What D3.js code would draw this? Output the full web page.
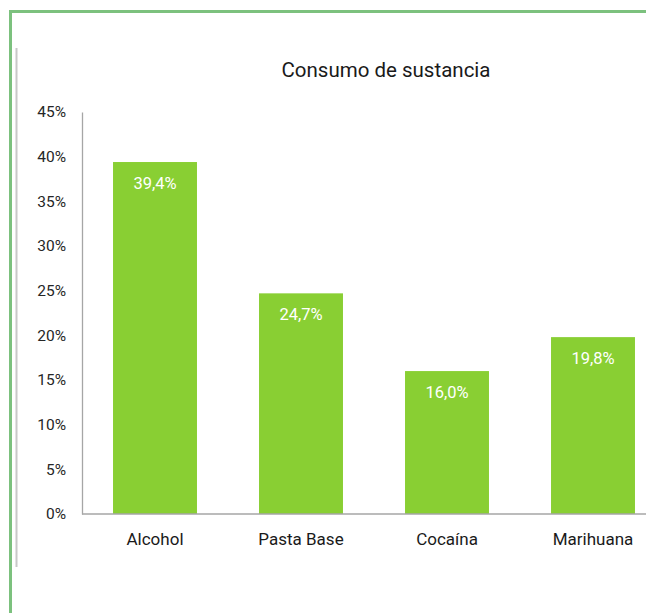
<!DOCTYPE html>
<html><head><meta charset="utf-8">
<script src="https://cdn.jsdelivr.net/npm/d3@7"></script>
<style>
html,body{margin:0;padding:0;background:#fff;}
svg{display:block;font-family:"Roboto",sans-serif;}
</style></head>
<body>
<svg id="c" width="646" height="613"></svg>
<script>
const categories = ["Alcohol", "Pasta Base", "Cocaína", "Marihuana"];
const values = [39.4, 24.7, 16.0, 19.8];
const yTicks = [0, 5, 10, 15, 20, 25, 30, 35, 40, 45];
const title = "Consumo de sustancia";

const svg = d3.select("#c");
// outer green frame
svg.append("path").attr("d", "M10.5,613 V11.5 H646")
  .attr("fill", "none").attr("stroke", "#7cc17e").attr("stroke-width", 3);
// inner grey frame line
svg.append("line").attr("x1", 16.5).attr("x2", 16.5).attr("y1", 48).attr("y2", 567)
  .attr("stroke", "#c8c8c8").attr("stroke-width", 2);

const x = d3.scaleBand().domain(categories).range([82, 666]).paddingInner(0.425).paddingOuter(0.2125);
const y = d3.scaleLinear().domain([0, 45]).range([514, 112]);

svg.append("text").attr("x", 386).attr("y", 77).attr("text-anchor", "middle")
  .attr("font-size", 20.5).attr("fill", "#1a1a1a").text(title);

// bars
svg.selectAll("rect.bar").data(values).join("rect").attr("class", "bar")
  .attr("x", (d, i) => x(categories[i])).attr("width", x.bandwidth())
  .attr("y", d => y(d)).attr("height", d => y(0) - y(d))
  .attr("fill", "#89cf33");

svg.selectAll("text.val").data(values).join("text").attr("class", "val")
  .attr("x", (d, i) => x(categories[i]) + x.bandwidth() / 2)
  .attr("y", d => y(d) + 27).attr("text-anchor", "middle")
  .attr("font-size", 16.5).attr("fill", "#fff")
  .text(d => d.toFixed(1).replace(".", ",") + "%");

// y axis
const ya = svg.append("g").attr("transform", "translate(82,0)")
  .call(d3.axisLeft(y).tickValues(yTicks).tickSize(0).tickPadding(16).tickFormat(d => d + "%"));
ya.select(".domain").attr("stroke", "#a6a6a6").attr("stroke-width", 1.3);
ya.selectAll("text").attr("font-size", 15.5).attr("fill", "#262626").attr("font-family", "Roboto, sans-serif");

// x axis
const xa = svg.append("g").attr("transform", "translate(0,514)")
  .call(d3.axisBottom(x).tickSize(0).tickPadding(19));
xa.select(".domain").attr("stroke", "#a6a6a6").attr("stroke-width", 1.5).attr("d", "M82,0H666");
xa.selectAll("text").attr("font-size", 17).attr("fill", "#1a1a1a").attr("font-family", "Roboto, sans-serif");
</script>
</body></html>
